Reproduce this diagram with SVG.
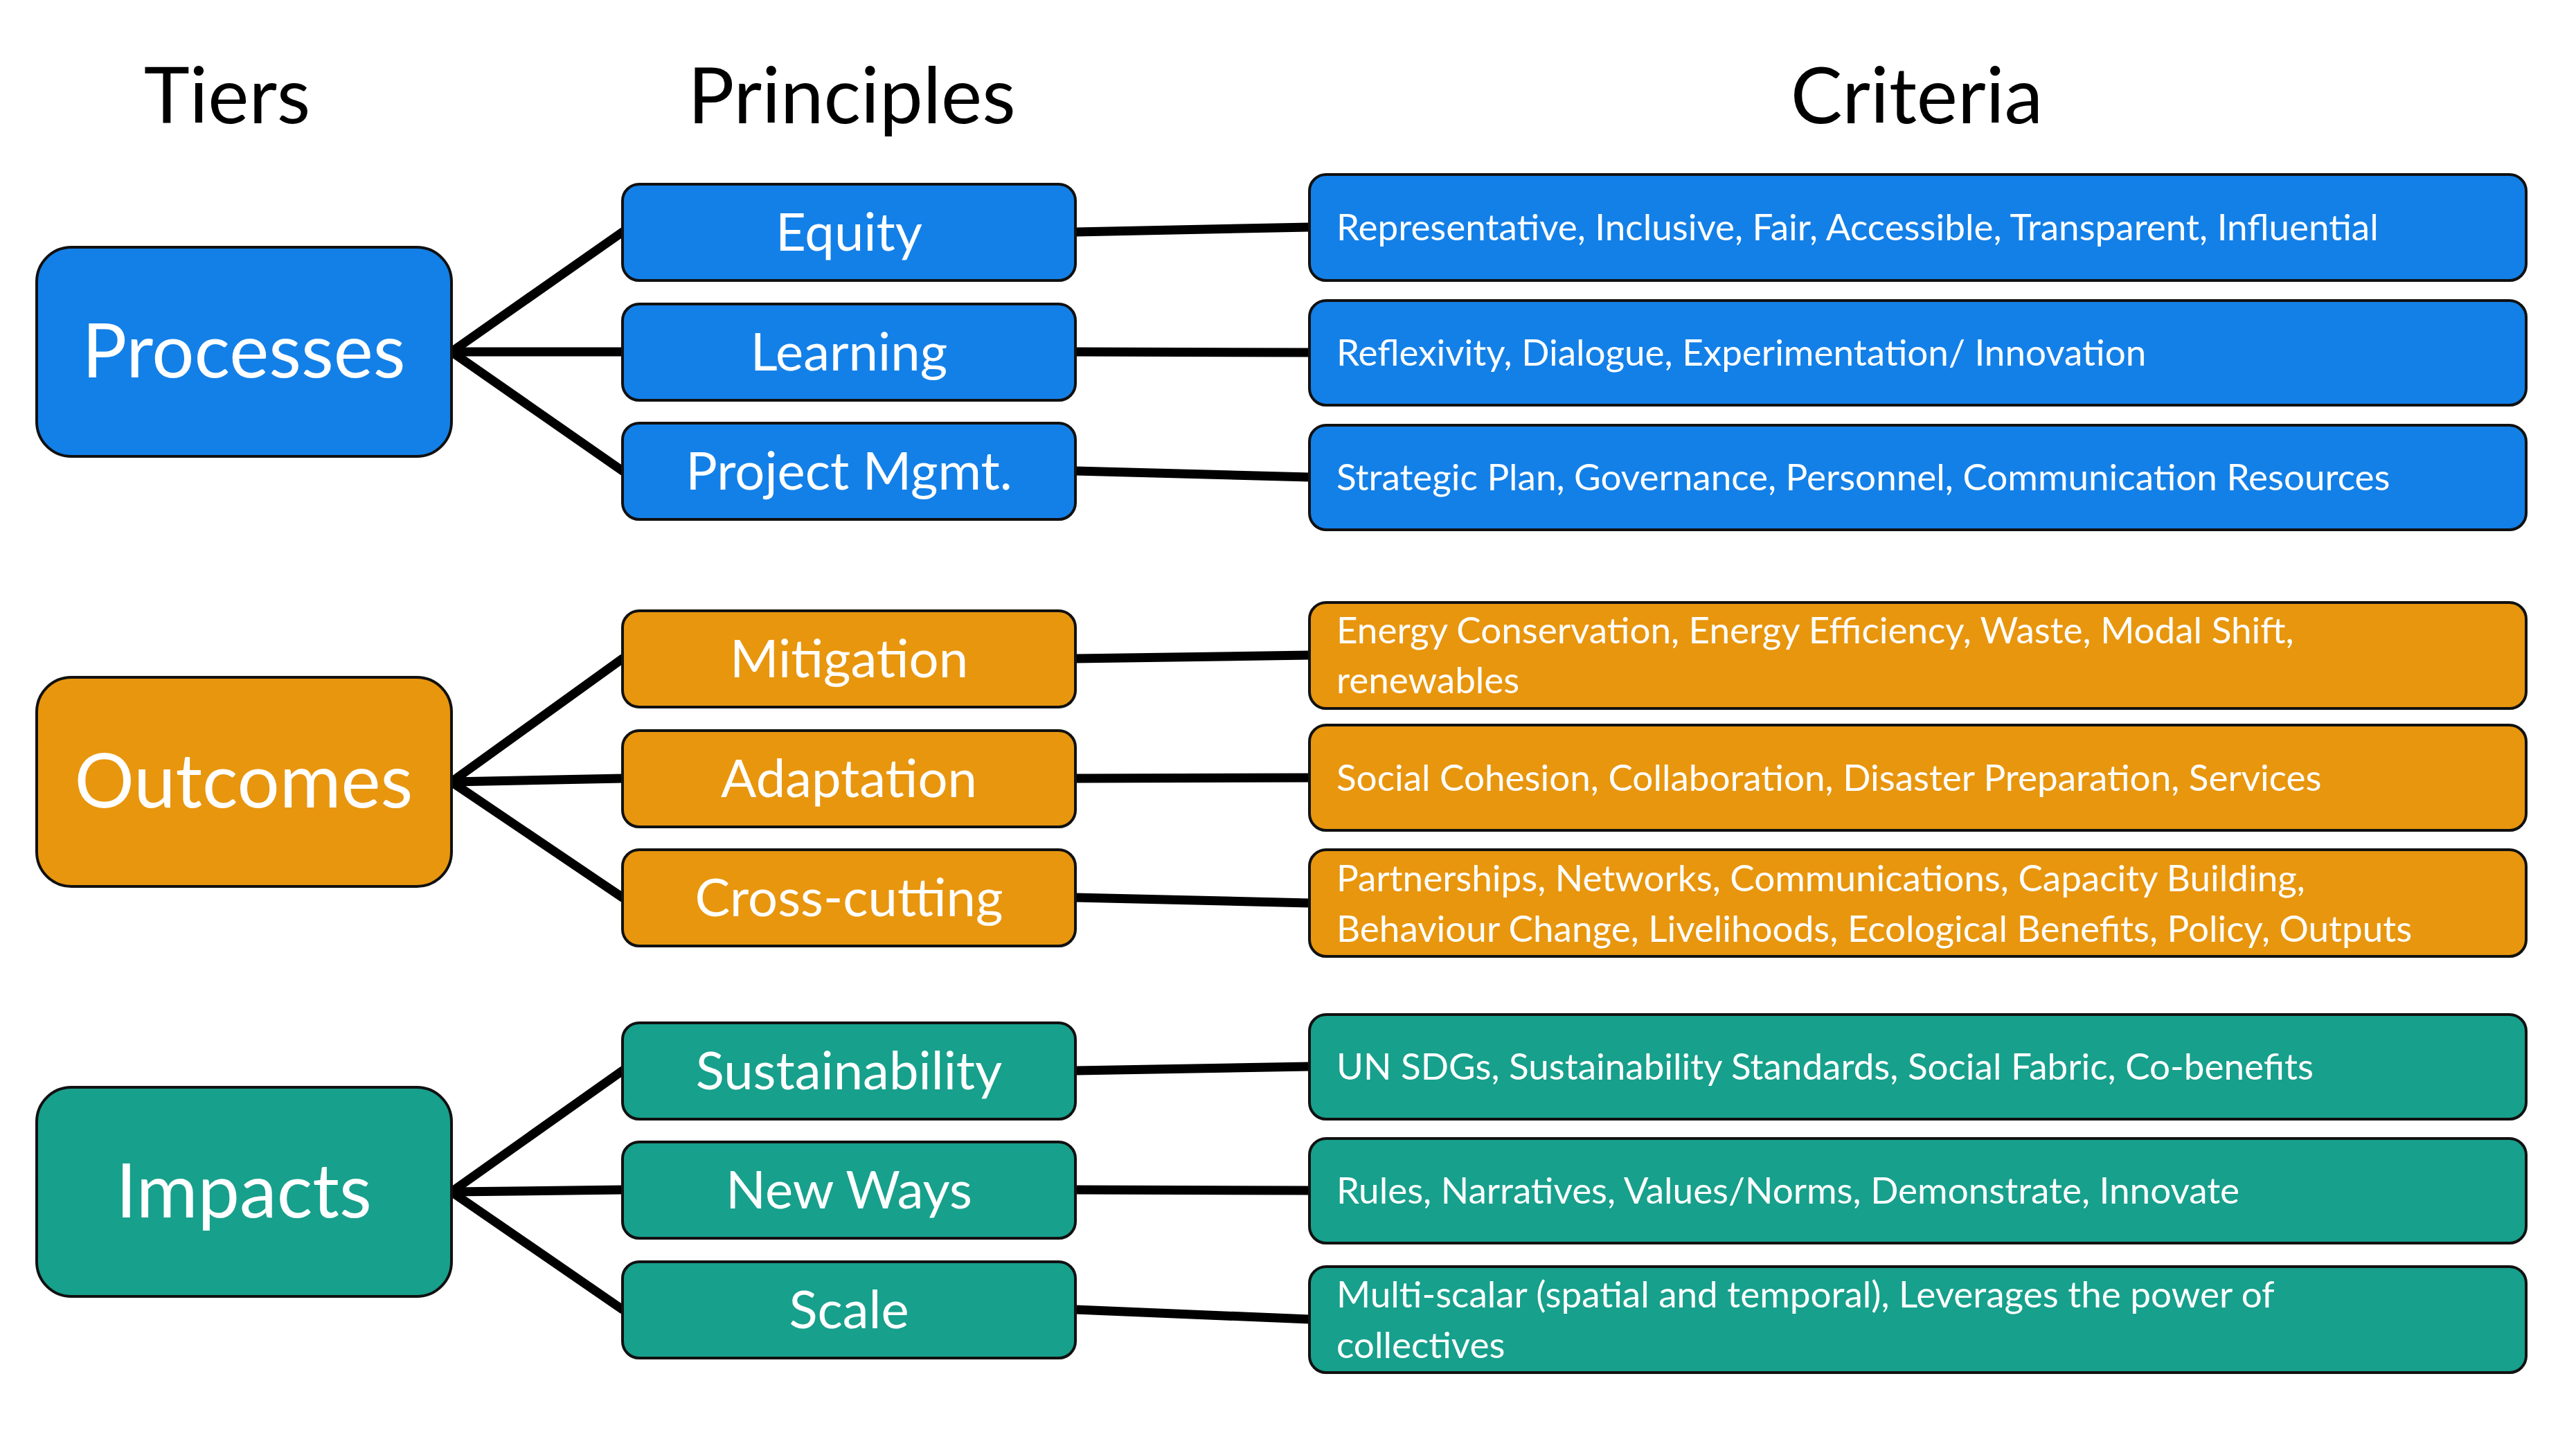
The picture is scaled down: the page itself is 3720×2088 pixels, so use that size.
<svg xmlns="http://www.w3.org/2000/svg" width="3720" height="2088" viewBox="0 0 3720 2088">
<style>
.b{fill:#1380E8}.o{fill:#E8960E}.t{fill:#17A08C}
rect{stroke:#111;stroke-width:4}
text{font-family:Lato,"Open Sans",sans-serif;fill:#fff}
.h{fill:#000;font-size:112px;text-anchor:middle}
.tier{font-size:108px;text-anchor:middle}
.pr{font-size:76px;text-anchor:middle}
.cr{font-size:53px}
#c line{stroke:#000;stroke-width:13;stroke-linecap:round}
</style>
<rect width="3720" height="2088" fill="#fff" style="stroke:none"/>
<text class="h" x="328" y="178">Tiers</text>
<text class="h" x="1230" y="178">Principles</text>
<text class="h" x="2768" y="178">Criteria</text>
<g id="c">
<line x1="652" y1="508" x2="899" y2="335"/><line x1="652" y1="508" x2="899" y2="508"/><line x1="652" y1="508" x2="899" y2="680"/>
<line x1="652" y1="1129" x2="899" y2="951"/><line x1="652" y1="1129" x2="899" y2="1124"/><line x1="652" y1="1129" x2="899" y2="1296"/>
<line x1="652" y1="1721" x2="899" y2="1546"/><line x1="652" y1="1721" x2="899" y2="1718"/><line x1="652" y1="1721" x2="899" y2="1891"/>
<line x1="1553" y1="335" x2="1891" y2="328"/><line x1="1553" y1="508" x2="1891" y2="509"/><line x1="1553" y1="680" x2="1891" y2="689"/>
<line x1="1553" y1="951" x2="1891" y2="946"/><line x1="1553" y1="1124" x2="1891" y2="1123"/><line x1="1553" y1="1296" x2="1891" y2="1304"/>
<line x1="1553" y1="1546" x2="1891" y2="1540"/><line x1="1553" y1="1718" x2="1891" y2="1719"/><line x1="1553" y1="1891" x2="1891" y2="1905"/>
</g>
<g id="processes"><rect class="b" x="53" y="357" width="599" height="302" rx="50"/><text class="tier" x="352" y="545">Processes</text></g>
<g id="outcomes"><rect class="o" x="53" y="978" width="599" height="302" rx="50"/><text class="tier" x="352" y="1166">Outcomes</text></g>
<g id="impacts"><rect class="t" x="53" y="1570" width="599" height="302" rx="50"/><text class="tier" x="352" y="1758">Impacts</text></g>
<g id="equity"><rect class="b" x="899" y="266" width="654" height="139" rx="24"/><text class="pr" x="1226" y="362">Equity</text></g>
<g id="learning"><rect class="b" x="899" y="439" width="654" height="139" rx="24"/><text class="pr" x="1226" y="535">Learning</text></g>
<g id="projmgmt"><rect class="b" x="899" y="611" width="654" height="139" rx="24"/><text class="pr" x="1226" y="707">Project Mgmt.</text></g>
<g id="mitigation"><rect class="o" x="899" y="882" width="654" height="139" rx="24"/><text class="pr" x="1226" y="978">Mitigation</text></g>
<g id="adaptation"><rect class="o" x="899" y="1055" width="654" height="139" rx="24"/><text class="pr" x="1226" y="1151">Adaptation</text></g>
<g id="crosscutting"><rect class="o" x="899" y="1227" width="654" height="139" rx="24"/><text class="pr" x="1226" y="1323">Cross-cutting</text></g>
<g id="sustainability"><rect class="t" x="899" y="1477" width="654" height="139" rx="24"/><text class="pr" x="1226" y="1573">Sustainability</text></g>
<g id="newways"><rect class="t" x="899" y="1649" width="654" height="139" rx="24"/><text class="pr" x="1226" y="1745">New Ways</text></g>
<g id="scale"><rect class="t" x="899" y="1822" width="654" height="139" rx="24"/><text class="pr" x="1226" y="1918">Scale</text></g>
<g id="cr1"><rect class="b" x="1891" y="252" width="1757" height="153" rx="24"/><text class="cr" x="1930" y="347">Representative, Inclusive, Fair, Accessible, Transparent, Influential</text></g>
<g id="cr2"><rect class="b" x="1891" y="434" width="1757" height="151" rx="24"/><text class="cr" x="1930" y="528">Reflexivity, Dialogue, Experimentation/ Innovation</text></g>
<g id="cr3"><rect class="b" x="1891" y="614" width="1757" height="151" rx="24"/><text class="cr" x="1930" y="708">Strategic Plan, Governance, Personnel, Communication Resources</text></g>
<g id="cr4"><rect class="o" x="1891" y="870" width="1757" height="153" rx="24"/><text class="cr" x="1930" y="929">Energy Conservation, Energy Efficiency, Waste, Modal Shift,</text><text class="cr" x="1930" y="1001">renewables</text></g>
<g id="cr5"><rect class="o" x="1891" y="1047" width="1757" height="152" rx="24"/><text class="cr" x="1930" y="1142">Social Cohesion, Collaboration, Disaster Preparation, Services</text></g>
<g id="cr6"><rect class="o" x="1891" y="1227" width="1757" height="154" rx="24"/><text class="cr" x="1930" y="1287">Partnerships, Networks, Communications, Capacity Building,</text><text class="cr" x="1930" y="1360">Behaviour Change, Livelihoods, Ecological Benefits, Policy, Outputs</text></g>
<g id="cr7"><rect class="t" x="1891" y="1465" width="1757" height="151" rx="24"/><text class="cr" x="1930" y="1559">UN SDGs, Sustainability Standards, Social Fabric, Co-benefits</text></g>
<g id="cr8"><rect class="t" x="1891" y="1644" width="1757" height="151" rx="24"/><text class="cr" x="1930" y="1738">Rules, Narratives, Values/Norms, Demonstrate, Innovate</text></g>
<g id="cr9"><rect class="t" x="1891" y="1829" width="1757" height="153" rx="24"/><text class="cr" x="1930" y="1888">Multi-scalar (spatial and temporal), Leverages the power of</text><text class="cr" x="1930" y="1961">collectives</text></g>
</svg>
